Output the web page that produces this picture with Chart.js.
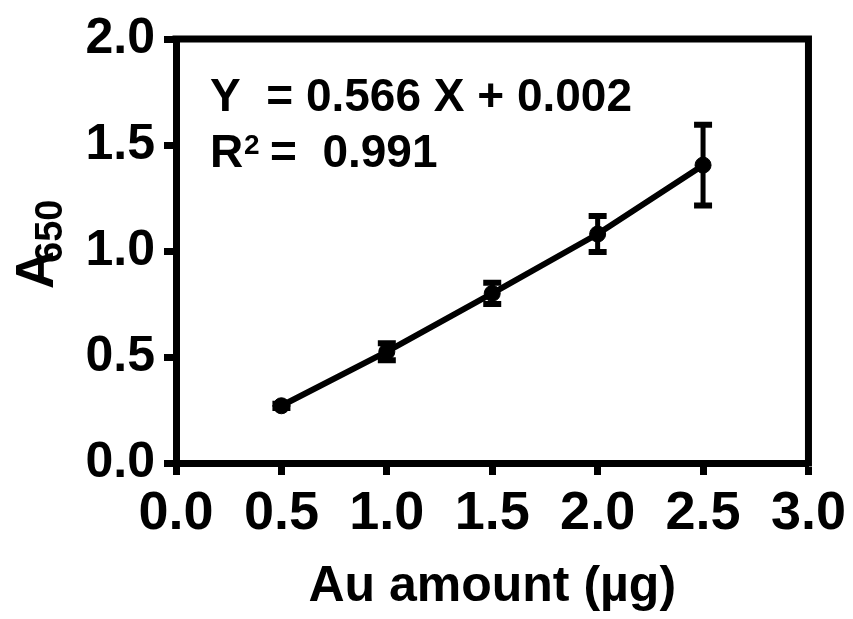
<!DOCTYPE html>
<html>
<head>
<meta charset="utf-8">
<script src="https://cdn.jsdelivr.net/npm/chart.js@4.4.1/dist/chart.umd.min.js"></script>
<style>
  body { margin: 0; background: #fff; }
  #myChart { display: block; }
</style>
</head>
<body>
<canvas id="myChart" width="853" height="619"></canvas>
<script>
// values
const xValues = [0.5, 1.0, 1.5, 2.0, 2.5]
const yValues = [0.27, 0.525, 0.80, 1.08, 1.405]
const yErrors = [0.01, 0.04, 0.05, 0.085, 0.19]

const xTickValues = [0, 0.5, 1.0, 1.5, 2.0, 2.5, 3.0]
const yTickValues = [0, 0.5, 1.0, 1.5, 2.0]

const xTitle = 'Au amount (µg)'
const yTitleMain = 'A'
const yTitleSub = '650'
const eqLine1 = 'Y  = 0.566 X + 0.002'
const eqLine2R = 'R'
const eqLine2Sup = '2'
const eqLine2Rest = '=  0.991'

const fontName = '"Liberation Sans", Arial, sans-serif'

const pointsData = xValues.map((x, i) => ({ x: x, y: yValues[i] }))

const datasets = [
  {
    label: 'data',
    data: pointsData,
    showLine: true,
    borderColor: '#000',
    backgroundColor: '#000',
    borderWidth: 6,
    pointRadius: 8,
    pointBorderWidth: 1,
    pointBackgroundColor: '#000',
    pointBorderColor: '#000'
  }
]

// error bars as small two point lines with flat caps
for (let i = 0; i < xValues.length; i++) {
  datasets.push({
    label: 'err' + i,
    data: [
      { x: xValues[i], y: yValues[i] - yErrors[i] },
      { x: xValues[i], y: yValues[i] + yErrors[i] }
    ],
    showLine: true,
    borderColor: '#000',
    borderWidth: 5,
    pointStyle: 'line',
    pointRadius: 9,
    pointBorderWidth: 6,
    pointBorderColor: '#000'
  })
}

const framePlugin = {
  id: 'frame',
  afterDraw(chart) {
    const ctx = chart.ctx
    const area = chart.chartArea
    ctx.save()
    ctx.strokeStyle = '#000'
    ctx.lineWidth = 7
    ctx.lineCap = 'square'
    ctx.beginPath()
    ctx.moveTo(area.left, area.top)
    ctx.lineTo(area.right, area.top)
    ctx.lineTo(area.right, area.bottom)
    ctx.stroke()

    // equation text
    ctx.fillStyle = '#000'
    ctx.textBaseline = 'alphabetic'
    ctx.textAlign = 'left'
    ctx.font = 'bold 46px ' + fontName
    ctx.fillText(eqLine1, 210, 111)
    ctx.fillText(eqLine2R, 210, 167)
    ctx.fillText(eqLine2Rest, 270, 167)
    ctx.font = 'bold 28px ' + fontName
    ctx.fillText(eqLine2Sup, 244, 154)

    // y axis title with subscript
    ctx.translate(53, 289)
    ctx.rotate(-Math.PI / 2)
    ctx.font = 'bold 53px ' + fontName
    ctx.fillText(yTitleMain, 0, 0)
    ctx.font = 'bold 38px ' + fontName
    ctx.fillText(yTitleSub, 26, 9)
    ctx.restore()
  }
}

const ctx = document.getElementById('myChart')
const myChart = new Chart(ctx, {
  type: 'scatter',
  data: { datasets: datasets },
  plugins: [framePlugin],
  options: {
    responsive: false,
    animation: false,
    devicePixelRatio: 1,
    layout: { padding: { top: 39, right: 41, left: 0, bottom: 0 } },
    plugins: {
      legend: { display: false },
      tooltip: { enabled: false }
    },
    scales: {
      x: {
        type: 'linear',
        min: 0,
        max: 3,
        afterFit: (scale) => { scale.height = 156 },
        afterBuildTicks: (scale) => { scale.ticks = xTickValues.map(v => ({ value: v })) },
        border: { display: true, color: '#000', width: 7 },
        grid: { drawOnChartArea: false, color: '#000', tickColor: '#000', tickLength: 12, tickWidth: 7 },
        ticks: {
          color: '#000',
          padding: 7,
          maxRotation: 0,
          font: { family: fontName, size: 54, weight: 'bold' },
          callback: (v) => Number(v).toFixed(1)
        },
        title: {
          display: true,
          text: xTitle,
          color: '#000',
          font: { family: fontName, size: 50, weight: 'bold' },
          padding: { top: 0, bottom: 2 }
        }
      },
      y: {
        type: 'linear',
        min: 0,
        max: 2,
        afterFit: (scale) => { scale.width = 176 },
        afterBuildTicks: (scale) => { scale.ticks = yTickValues.map(v => ({ value: v })) },
        border: { display: true, color: '#000', width: 7 },
        grid: { drawOnChartArea: false, color: '#000', tickColor: '#000', tickLength: 12, tickWidth: 7 },
        ticks: {
          color: '#000',
          padding: 9,
          font: { family: fontName, size: 50, weight: 'bold' },
          callback: (v) => Number(v).toFixed(1)
        }
      }
    }
  }
})
</script>
</body>
</html>
